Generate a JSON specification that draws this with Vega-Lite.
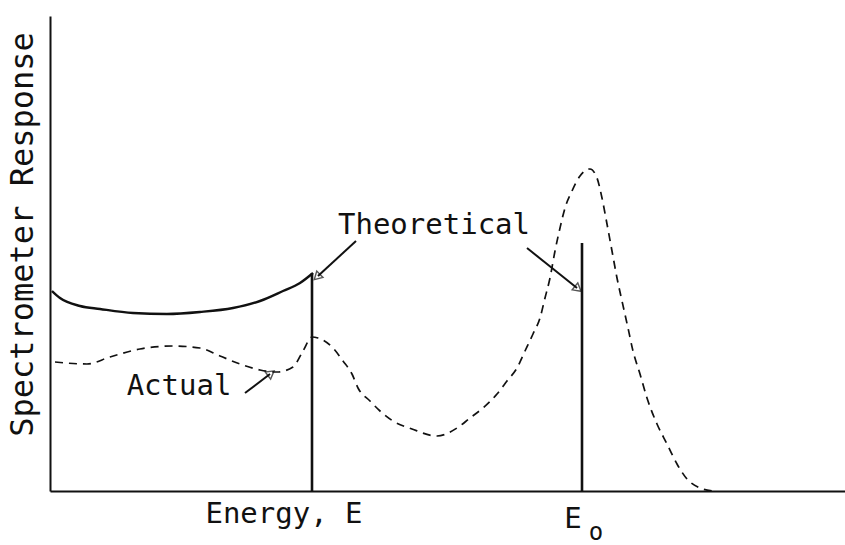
{
  "$schema": "https://vega.github.io/schema/vega-lite/v6.json",
  "width": 795,
  "height": 475,
  "autosize": {"type": "none"},
  "padding": {"left": 50, "top": 16, "right": 0, "bottom": 54},
  "background": "white",
  "config": {
    "view": {"stroke": null},
    "font": "DejaVu Sans Mono",
    "text": {"font": "DejaVu Sans Mono", "color": "#111"}
  },
  "datasets": {
    "theoretical": [
      {"energy": 2, "response": 200},
      {"energy": 10, "response": 193},
      {"energy": 30, "response": 185},
      {"energy": 50, "response": 182},
      {"energy": 83, "response": 178},
      {"energy": 117, "response": 177},
      {"energy": 150, "response": 179},
      {"energy": 183, "response": 183},
      {"energy": 210, "response": 190},
      {"energy": 233, "response": 200},
      {"energy": 250, "response": 208},
      {"energy": 263, "response": 218}
    ],
    "actual": [
      {"energy": 5, "response": 129},
      {"energy": 37, "response": 127},
      {"energy": 60, "response": 134},
      {"energy": 90, "response": 142},
      {"energy": 123, "response": 145},
      {"energy": 150, "response": 143},
      {"energy": 170, "response": 135},
      {"energy": 190, "response": 127},
      {"energy": 210, "response": 121},
      {"energy": 227, "response": 119},
      {"energy": 243, "response": 124},
      {"energy": 253, "response": 140},
      {"energy": 262, "response": 154},
      {"energy": 268, "response": 153},
      {"energy": 283, "response": 143},
      {"energy": 293, "response": 130},
      {"energy": 302, "response": 117},
      {"energy": 308, "response": 103},
      {"energy": 320, "response": 90},
      {"energy": 330, "response": 80},
      {"energy": 343, "response": 70},
      {"energy": 362, "response": 62},
      {"energy": 387, "response": 55},
      {"energy": 407, "response": 63},
      {"energy": 420, "response": 73},
      {"energy": 433, "response": 83},
      {"energy": 447, "response": 97},
      {"energy": 457, "response": 110},
      {"energy": 467, "response": 123},
      {"energy": 475, "response": 140},
      {"energy": 483, "response": 157},
      {"energy": 490, "response": 173},
      {"energy": 495, "response": 193},
      {"energy": 500, "response": 213},
      {"energy": 505, "response": 240},
      {"energy": 510, "response": 263},
      {"energy": 515, "response": 283},
      {"energy": 522, "response": 300},
      {"energy": 530, "response": 315},
      {"energy": 540, "response": 322},
      {"energy": 547, "response": 313},
      {"energy": 552, "response": 293},
      {"energy": 557, "response": 267},
      {"energy": 562, "response": 240},
      {"energy": 567, "response": 213},
      {"energy": 572, "response": 190},
      {"energy": 578, "response": 163},
      {"energy": 583, "response": 140},
      {"energy": 590, "response": 117},
      {"energy": 597, "response": 93},
      {"energy": 607, "response": 67},
      {"energy": 617, "response": 47},
      {"energy": 627, "response": 27},
      {"energy": 637, "response": 12},
      {"energy": 650, "response": 3},
      {"energy": 662, "response": 0}
    ],
    "edges": [
      {"name": "E", "energy": 262, "response": 218},
      {"name": "E0", "energy": 532, "response": 248}
    ],
    "arrows": [
      {"name": "toE", "energy": 306, "response": 250, "energy2": 268, "response2": 215},
      {"name": "toE0", "energy": 477, "response": 243, "energy2": 527, "response2": 203},
      {"name": "toActual", "energy": 195, "response": 98, "energy2": 220, "response2": 117}
    ],
    "notes": [
      {"text": "Theoretical", "energy": 384, "response": 257},
      {"text": "Actual", "energy": 129, "response": 96}
    ],
    "ticks": [
      {"text": "Energy, E", "energy": 234, "response": -32},
      {"text": "E", "energy": 523, "response": -37}
    ],
    "subscripts": [
      {"text": "o", "energy": 546, "response": -49}
    ]
  },
  "encoding": {
    "x": {"type": "quantitative", "scale": {"domain": [0, 795], "nice": false, "zero": false}},
    "y": {"type": "quantitative", "scale": {"domain": [0, 475], "nice": false, "zero": false}}
  },
  "layer": [
    {
      "data": {"name": "theoretical"},
      "mark": {"type": "line", "color": "#111", "strokeWidth": 2.4, "interpolate": "monotone"},
      "encoding": {
        "x": {
          "field": "energy",
          "axis": {"domain": true, "domainColor": "#111", "domainWidth": 2, "ticks": false, "labels": false, "grid": false, "title": null}
        },
        "y": {
          "field": "response",
          "axis": {
            "domain": true, "domainColor": "#111", "domainWidth": 2, "ticks": false, "labels": false, "grid": false,
            "title": "Spectrometer Response",
            "titleFont": "DejaVu Sans Mono", "titleFontWeight": "normal", "titleFontSize": 32, "titleColor": "#111",
            "titleAngle": 270, "titleAlign": "center", "titleBaseline": "middle", "titleX": -28, "titleY": 218
          }
        }
      }
    },
    {
      "mark": {"type": "rule", "color": "#111", "strokeWidth": 2},
      "encoding": {"y": {"datum": 475}}
    },
    {
      "data": {"name": "actual"},
      "mark": {"type": "line", "color": "#111", "strokeWidth": 1.7, "strokeDash": [8, 6], "interpolate": "monotone"},
      "encoding": {"x": {"field": "energy"}, "y": {"field": "response"}}
    },
    {
      "data": {"name": "edges"},
      "mark": {"type": "rule", "color": "#111", "strokeWidth": 2.6},
      "encoding": {"x": {"field": "energy"}, "y": {"field": "response"}, "y2": {"datum": 0}}
    },
    {
      "data": {"name": "arrows"},
      "mark": {"type": "rule", "color": "#111", "strokeWidth": 2},
      "encoding": {
        "x": {"field": "energy"}, "y": {"field": "response"},
        "x2": {"field": "energy2"}, "y2": {"field": "response2"}
      }
    },
    {
      "data": {"name": "arrows"},
      "transform": [{"filter": "datum.name === 'toE'"}],
      "mark": {"type": "point", "shape": "triangle", "angle": 226, "size": 80, "filled": false, "color": "#111", "strokeWidth": 1.4},
      "encoding": {"x": {"field": "energy2"}, "y": {"field": "response2"}}
    },
    {
      "data": {"name": "arrows"},
      "transform": [{"filter": "datum.name === 'toE0'"}],
      "mark": {"type": "point", "shape": "triangle", "angle": 129, "size": 80, "filled": false, "color": "#111", "strokeWidth": 1.4},
      "encoding": {"x": {"field": "energy2"}, "y": {"field": "response2"}}
    },
    {
      "data": {"name": "arrows"},
      "transform": [{"filter": "datum.name === 'toActual'"}],
      "mark": {"type": "point", "shape": "triangle", "angle": 53, "size": 80, "filled": false, "color": "#111", "strokeWidth": 1.4},
      "encoding": {"x": {"field": "energy2"}, "y": {"field": "response2"}}
    },
    {
      "data": {"name": "notes"},
      "mark": {"type": "text", "fontSize": 29, "align": "center", "baseline": "alphabetic"},
      "encoding": {"x": {"field": "energy"}, "y": {"field": "response"}, "text": {"field": "text"}}
    },
    {
      "data": {"name": "ticks"},
      "mark": {"type": "text", "fontSize": 29, "align": "center", "baseline": "alphabetic"},
      "encoding": {"x": {"field": "energy"}, "y": {"field": "response"}, "text": {"field": "text"}}
    },
    {
      "data": {"name": "subscripts"},
      "mark": {"type": "text", "fontSize": 24, "align": "center", "baseline": "alphabetic"},
      "encoding": {"x": {"field": "energy"}, "y": {"field": "response"}, "text": {"field": "text"}}
    }
  ]
}
